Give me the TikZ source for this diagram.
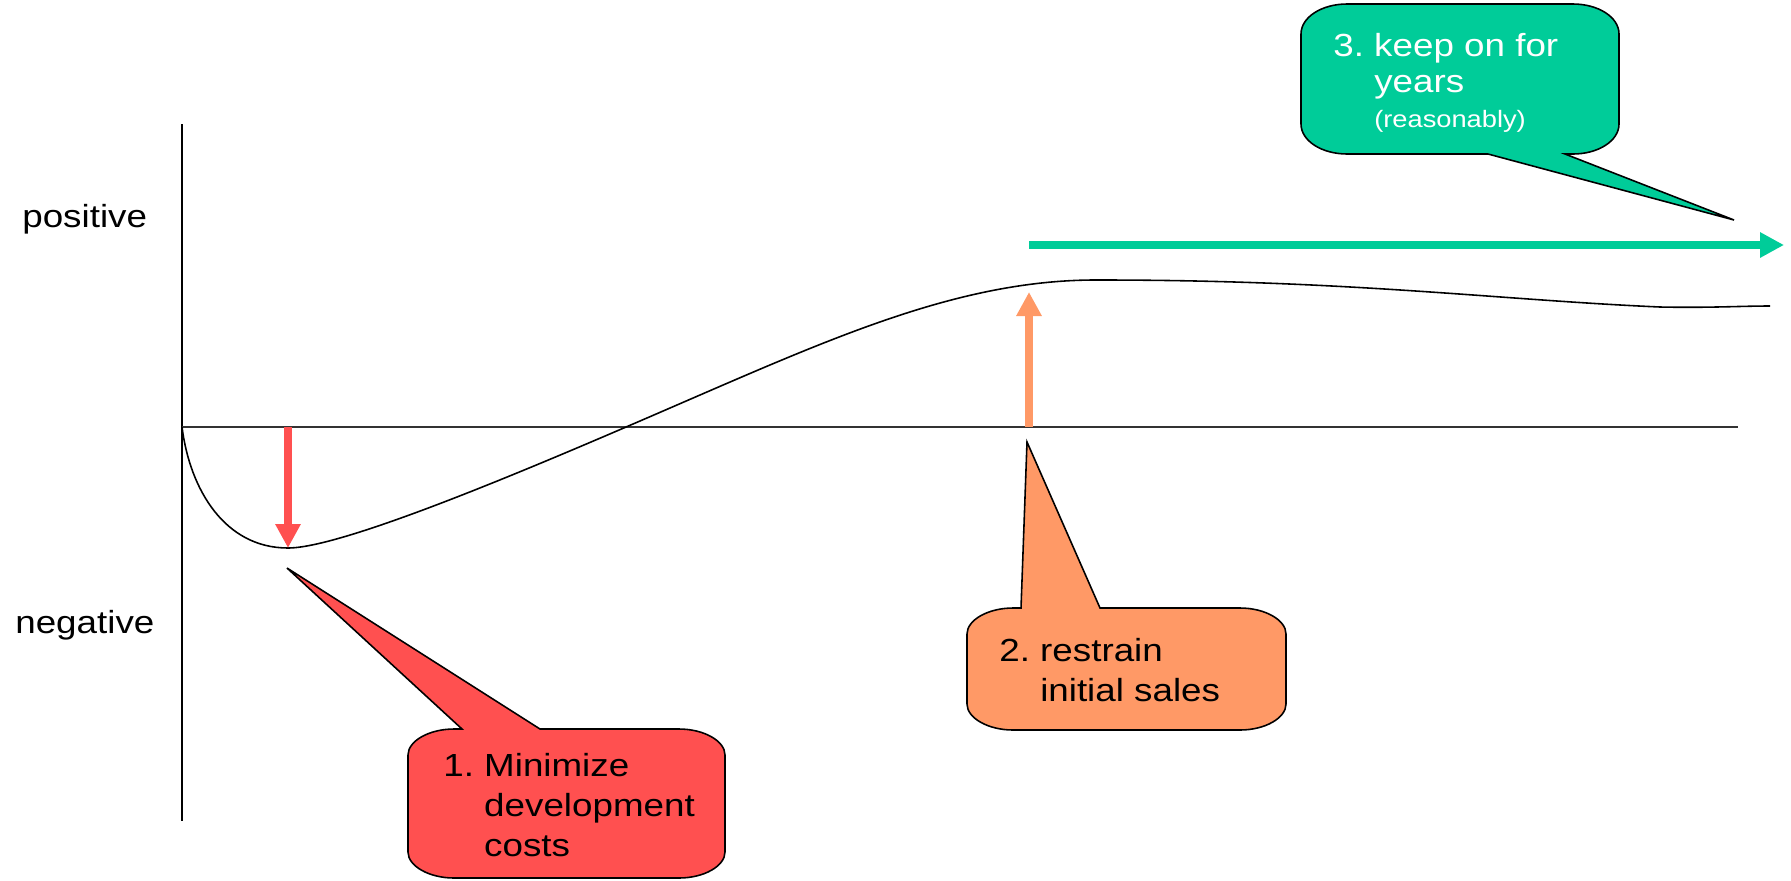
\documentclass[tikz,border=0pt]{standalone}
\usepackage{fontspec}
\setmainfont[FakeStretch=1.15]{Liberation Sans}
\usetikzlibrary{arrows.meta}
\definecolor{coral}{HTML}{FF5050}
\definecolor{peach}{HTML}{FF9966}
\definecolor{mint}{HTML}{00CC99}

\begin{document}
\begin{tikzpicture}[x=0.02cm, y=-0.02cm,
  >={Triangle[length=0.48cm, width=0.48cm]},
  bubble/.style={draw=black, line width=0.9pt, line join=miter},
  bigarrow/.style={->, line width=0.16cm},
  lbl/.style={anchor=base west, inner sep=0pt, font=\fontsize{18.2}{23}\selectfont}]

\useasboundingbox (0,0) rectangle (1791,880);

%% Axes
\coordinate (origin) at (182,427);
\coordinate (xend) at (1738,427);
\draw[line width=0.9pt] (182,124) -- (182,821);
\draw[line width=0.7pt, black!80] (origin) -- (xend);

\node[lbl] (pos) at (22,227) {positive};
\node[lbl] (neg) at (15,633) {negative};

%% Curve
\coordinate (low) at (288,548);
\coordinate (high) at (1029,292);
\draw[line width=0.9pt] (origin)
  .. controls (190,490) and (225,548) .. (low)
  .. controls (350,548) and (580,447) .. (700,395)
  .. controls (850,330) and (970,279) .. (1100,280)
  .. controls (1350,280) and (1500,300) .. (1660,307)
  .. controls (1710,308) and (1740,306) .. (1770,306);

%% Arrows
\draw[bigarrow, coral] (288,427) -- (low);
\draw[bigarrow, peach] (1029,427) -- (high);
\coordinate (runstart) at (1029,245);
\coordinate (runend) at (1784,245);
\draw[bigarrow, mint] (runstart) -- (runend);

%% Callout 1
\coordinate (tip1) at (287,568);
\draw[bubble, fill=coral] (408,755) .. controls +(0,-14) and +(-25,0) .. (454,729)
  -- (462,729) -- (tip1) -- (540,729) -- (679,729)
  .. controls +(25,0) and +(0,-14) .. (725,755) -- (725,852)
  .. controls +(0,14) and +(25,0) .. (679,878) -- (454,878)
  .. controls +(-25,0) and +(0,14) .. (408,852) -- cycle;
\node[lbl] (note1) at (443,776) {\begin{tabular}[t]{@{}l@{\ }l@{}}
  1. & Minimize\\ & development\\ & costs\end{tabular}};

%% Callout 2
\coordinate (tip2) at (1027,442);
\draw[bubble, fill=peach] (967,634) .. controls +(0,-14) and +(-25,0) .. (1013,608)
  -- (1021,608) -- (tip2) -- (1100,608) -- (1240,608)
  .. controls +(25,0) and +(0,-14) .. (1286,634) -- (1286,704)
  .. controls +(0,14) and +(25,0) .. (1240,730) -- (1013,730)
  .. controls +(-25,0) and +(0,14) .. (967,704) -- cycle;
\node[lbl] (note2) at (999,661) {\begin{tabular}[t]{@{}l@{\ }l@{}}
  2. & restrain\\ & initial sales\end{tabular}};

%% Callout 3
\coordinate (tip3) at (1734,220);
\draw[bubble, fill=mint] (1301,34) .. controls +(0,-17) and +(-25,0) .. (1347,4)
  -- (1573,4) .. controls +(25,0) and +(0,-17) .. (1619,34) -- (1619,124)
  .. controls +(0,17) and +(25,0) .. (1573,154) -- (1565,154) -- (tip3)
  -- (1488,154) -- (1347,154)
  .. controls +(-25,0) and +(0,17) .. (1301,124) -- cycle;
\node[lbl, text=white, font=\fontsize{18.2}{21}\selectfont] (note3) at (1333,56)
  {\begin{tabular}[t]{@{}l@{\ }l@{}}
  3. & keep on for\\ & years\\[-1.5pt]
  & {\fontsize{13.5}{15}\selectfont (reasonably)}\end{tabular}};

\end{tikzpicture}
\end{document}
